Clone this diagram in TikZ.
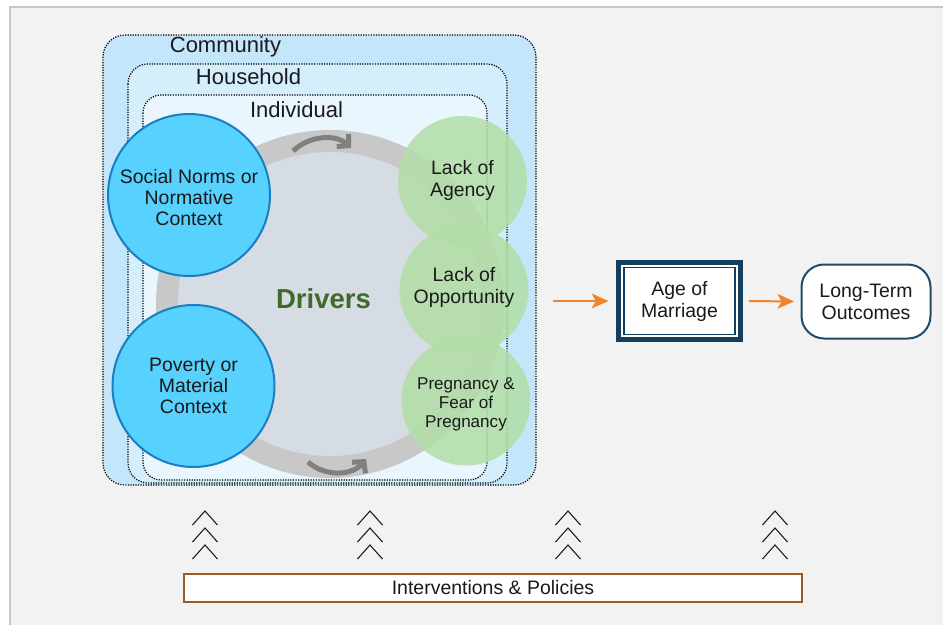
\documentclass[tikz,border=0pt]{standalone}
\usepackage{fontspec}
\setmainfont{Liberation Sans}
\usetikzlibrary{arrows.meta,calc}
\definecolor{bgc}{HTML}{F2F2F2}
\definecolor{framec}{HTML}{C8C8C8}
\definecolor{commc}{HTML}{C4E6FA}
\definecolor{househc}{HTML}{D4EEFC}
\definecolor{indivc}{HTML}{EAF6FE}
\definecolor{ringc}{HTML}{C8C8C8}
\definecolor{innerc}{HTML}{D6DCE4}
\definecolor{bluefill}{HTML}{57D1FD}
\definecolor{blueline}{HTML}{1B7EC2}
\definecolor{greenfill}{HTML}{B2DEA6}
\definecolor{drivc}{HTML}{3E6B28}
\definecolor{cycc}{HTML}{808080}
\definecolor{orangec}{HTML}{F0842C}
\definecolor{navyc}{HTML}{133F5F}
\definecolor{ltc}{HTML}{1E4B6B}
\definecolor{brownc}{HTML}{9C5B22}
\definecolor{txtc}{HTML}{1A1A1A}
\tikzset{
  levelbox/.style={draw=black, densely dotted, line width=0.9pt},
  lvltext/.style={text=txtc, font=\fontsize{16.5}{18}\selectfont, inner sep=0pt},
  factor/.style={circle, fill=bluefill, draw=blueline, line width=1.5pt, minimum size=121.5pt, inner sep=0pt, align=center, text=txtc, font=\fontsize{14.6}{15.75}\selectfont},
  gfactor/.style={circle, fill=greenfill, fill opacity=0.85, text opacity=1, minimum size=96.75pt, inner sep=0pt, align=center, text=txtc, font=\fontsize{14.6}{16.5}\selectfont},
  cyc/.style={draw=cycc, line width=3.75pt, -{Straight Barb[length=6pt,width=13pt]}},
  oarrow/.style={draw=orangec, line width=1.5pt, -{Stealth[length=12.5pt,width=11pt,inset=3pt]}},
  chev/.style={draw=txtc, line width=0.8pt},
}
\begin{document}
\begin{tikzpicture}[x=0.75pt,y=-0.75pt]
\useasboundingbox (0,0) rectangle (943,625);
\fill[white] (0,0) rectangle (943,625);
\draw[draw=framec, fill=bgc, line width=1.5pt] (10,7) rectangle (970,650);

% nested levels
\draw[levelbox, fill=commc, rounded corners=16.5pt] (103,35) rectangle (536,485);
\draw[levelbox, fill=househc, rounded corners=15pt] (128,64) rectangle (507,483);
\draw[levelbox, fill=indivc, rounded corners=13.5pt] (143,95) rectangle (487,480);
\node[lvltext] (lcomm) at (225.5,47) {Community};
\node[lvltext] (lhouse) at (248.5,77) {Household};
\node[lvltext] (lindiv) at (296.5,110) {Individual};

% drivers ring
\node[circle, fill=ringc, minimum size=261pt, inner sep=0pt] (ring) at (330,304) {};
\node[circle, fill=innerc, minimum size=228pt, inner sep=0pt] (inner) at (330,304) {};
\coordinate (t1) at (293,151);
\coordinate (t2) at (351,148);
\coordinate (b1) at (308,462);
\coordinate (b2) at (366,459);
\draw[cyc] (t1) .. controls (310,135) and (336,134) .. (t2);
\draw[cyc] (b1) .. controls (325,477) and (352,476) .. (b2);

\node[text=drivc, font=\fontsize{20.6}{22}\selectfont\bfseries, inner sep=0pt] (drivers) at (323.5,299) {Drivers};

% blue factors
\node[factor] (norms) at (189,195) {\rule{0pt}{15pt}Social Norms or\\Normative\\Context};
\node[factor] (poverty) at (193.5,386) {Poverty or\\Material\\Context};

% green factors
\node[gfactor] (agency) at (462.5,180.5) {Lack of\\Agency};
\node[gfactor] (opport) at (464,290) {Lack of\\Opportunity\rule[-7.5pt]{0pt}{0pt}};
\node[gfactor, font=\fontsize{12.8}{14.3}\selectfont] (preg) at (466,401) {\rule{0pt}{14pt}Pregnancy \&\\Fear of\\Pregnancy};

% outcome boxes
\node[draw=navyc, line width=3.75pt, fill=white, outer sep=0pt, minimum width=91.5pt, minimum height=57.75pt, inner sep=0pt, align=center, text=txtc, font=\fontsize{14.6}{16.5}\selectfont] (age) at (679.5,301) {Age of\\Marriage};
\draw[navyc, line width=1.2pt] ($(age.north west)+(5.5,5)$) rectangle ($(age.south east)+(-5.5,-5)$);
\node[draw=ltc, line width=1.5pt, fill=white, rounded corners=17pt, outer sep=0pt, minimum width=96.75pt, minimum height=55.5pt, inner sep=0pt, align=center, text=txtc, font=\fontsize{14.6}{16.5}\selectfont] (lto) at (866,301.5) {Long-Term\\Outcomes};

\coordinate (src) at (553,301);
\draw[oarrow, shorten >=7.5pt] (src) -- (age.west);
\draw[oarrow, shorten <=6.5pt, shorten >=5.5pt] (age.east) -- (lto.west);

% chevrons
\foreach \cx in {205,370,568,775}{
  \foreach \ty in {511,528,545}{
    \draw[chev] (\cx-12.5,\ty+14) -- (\cx,\ty) -- (\cx+12.5,\ty+14);
  }
}

\node[draw=brownc, line width=1.5pt, fill=white, minimum width=463.5pt, minimum height=20.5pt, inner sep=0pt, text=txtc, font=\fontsize{14.6}{15.8}\selectfont] (ip) at (493,588) {Interventions \& Policies};
\end{tikzpicture}
\end{document}
